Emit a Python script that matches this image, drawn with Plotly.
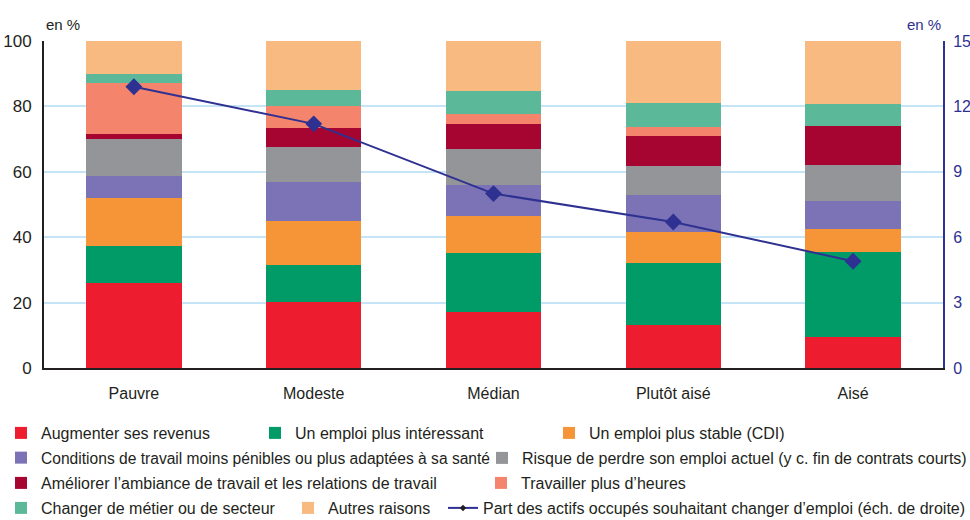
import plotly.graph_objects as go

categories = ["Pauvre", "Modeste", "Médian", "Plutôt aisé", "Aisé"]

augmenter_revenus = [26.0, 20.1, 17.0, 13.1, 9.4]
emploi_interessant = [11.3, 11.3, 18.1, 18.9, 26.0]
emploi_stable = [14.7, 13.5, 11.3, 9.5, 7.1]
conditions_travail = [6.8, 12.0, 9.5, 11.4, 8.5]
risque_perdre = [11.3, 10.7, 11.0, 8.8, 11.0]
ambiance = [1.5, 5.8, 7.7, 9.2, 12.0]
plus_heures = [15.6, 6.7, 3.1, 2.8, 0.0]
changer_metier = [2.8, 4.9, 7.0, 7.3, 6.7]
autres_raisons = [10.0, 15.0, 15.3, 19.0, 19.3]

part_actifs = [12.9, 11.2, 8.0, 6.7, 4.9]

series = [
    ("Augmenter ses revenus", augmenter_revenus, "#ED1C2E"),
    ("Un emploi plus intéressant", emploi_interessant, "#009B67"),
    ("Un emploi plus stable (CDI)", emploi_stable, "#F59538"),
    ("Conditions de travail moins pénibles ou plus adaptées à sa santé", conditions_travail, "#7B73B5"),
    ("Risque de perdre son emploi actuel (y c. fin de contrats courts)", risque_perdre, "#939598"),
    ("Améliorer l’ambiance de travail et les relations de travail", ambiance, "#A60431"),
    ("Travailler plus d’heures", plus_heures, "#F4846C"),
    ("Changer de métier ou de secteur", changer_metier, "#5BB99A"),
    ("Autres raisons", autres_raisons, "#F9BA82"),
]
line_name = "Part des actifs occupés souhaitant changer d’emploi (éch. de droite)"

FONT = "Liberation Sans, Arial, sans-serif"
TXT = "#231F20"
NAVY = "#2E3192"

W, H = 970, 520
L, R, T, B = 44, 943, 41, 368   # plot area in px

# legend placement (px): text start x, row center y, font size
leg_pos = [
    (41, 434, 16), (295, 434, 16), (589, 434, 16),
    (41, 459, 15.6), (522, 459, 16),
    (41, 484, 16), (521, 484, 16),
    (41, 509, 16), (328, 509, 16), (483, 509, 16),
]

fig = go.Figure()
for i, (name, vals, col) in enumerate(series):
    fig.add_trace(go.Bar(x=categories, y=vals, name=name, marker_color=col,
                         marker_line_width=0, yaxis="y",
                         legend="legend" if i == 0 else f"legend{i+1}"))

fig.add_trace(go.Scatter(x=categories, y=part_actifs, name=line_name, yaxis="y2",
                         mode="lines+markers", line=dict(color=NAVY, width=2),
                         marker=dict(symbol="diamond", size=13, color=NAVY),
                         showlegend=False))
fig.add_trace(go.Scatter(x=[None], y=[None], name=line_name, yaxis="y2",
                         mode="lines+markers", line=dict(color=NAVY, width=2),
                         marker=dict(symbol="diamond", size=5, color="#231F20"),
                         legend="legend10"))

layout_legends = {}
for i, (tx, ty, fs) in enumerate(leg_pos):
    key = "legend" if i == 0 else f"legend{i+1}"
    xf = tx - 40
    yf = ty - 1
    layout_legends[key] = dict(
        xref="paper", yref="paper",
        x=(xf - L) / (R - L), y=(B - yf) / (B - T), xanchor="left", yanchor="middle",
        orientation="h", bgcolor="rgba(0,0,0,0)",
        font=dict(family=FONT, size=fs, color=TXT),
        itemclick=False, itemdoubleclick=False,
    )

fig.update_layout(
    width=W, height=H,
    margin=dict(l=L, r=W - R, t=T, b=H - B, autoexpand=False),
    plot_bgcolor="white", paper_bgcolor="white",
    barmode="stack", bargap=0.47,
    font=dict(family=FONT, size=16, color=TXT),
    xaxis=dict(showline=True, linecolor="#231F20", linewidth=2, ticks="",
               tickfont=dict(size=16, color=TXT), ticklabelstandoff=10,
               showgrid=False, fixedrange=True),
    yaxis=dict(range=[0, 100], dtick=20, showline=True, linecolor="#231F20", linewidth=2,
               showgrid=True, gridcolor="#C5E4F6", gridwidth=1.5, zeroline=False,
               ticks="", ticklabelstandoff=7, tickfont=dict(size=17, color=TXT)),
    yaxis2=dict(range=[0, 15], dtick=3, overlaying="y", side="right", showline=True,
                linecolor=NAVY, linewidth=2, showgrid=False, zeroline=False,
                ticks="", ticklabelstandoff=5, tickfont=dict(size=16, color=NAVY)),
    annotations=[
        dict(text="en %", xref="paper", yref="paper", x=0, y=1, xanchor="left", yanchor="bottom",
             yshift=6, showarrow=False, font=dict(size=15, color=TXT, family=FONT)),
        dict(text="en %", xref="paper", yref="paper", x=1, y=1, xanchor="right", yanchor="bottom",
             yshift=6, showarrow=False, font=dict(size=15, color=NAVY, family=FONT)),
    ],
    **layout_legends,
)

fig.write_html("out.html", config={"displayModeBar": False},
               post_script="document.body.style.margin='0px';document.body.style.overflow='hidden';")
